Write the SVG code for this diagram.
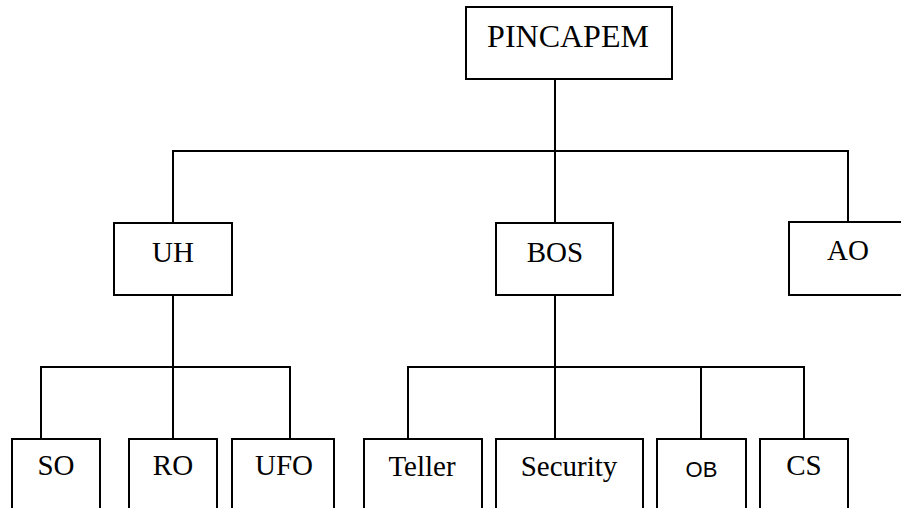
<svg xmlns="http://www.w3.org/2000/svg" width="901" height="508" viewBox="0 0 901 508">
<style>
.box{fill:#fff;stroke:#000;stroke-width:2}
.ln{fill:none;stroke:#000;stroke-width:2}
.t{font-family:"Liberation Serif","Times New Roman",serif;font-size:29px;text-anchor:middle;fill:#000}
.big{font-size:32px}
.s{font-family:"Liberation Sans",Arial,sans-serif;font-size:22px;text-anchor:middle;fill:#000}
</style>
<rect width="901" height="508" fill="#fff"/>
<g id="connectors">
<path class="ln" d="M555 79V223M173 223V151H848V222"/>
<path class="ln" d="M173 295V439M41 439V367H290V439"/>
<path class="ln" d="M555 295V439M408 439V367H804V439M701 367V439"/>
</g>
<g id="PINCAPEM"><rect class="box" x="466" y="7" width="206" height="72"/><text class="t big" x="568" y="47">PINCAPEM</text></g>
<g id="UH"><rect class="box" x="114" y="223" width="118" height="72"/><text class="t" x="173" y="262">UH</text></g>
<g id="BOS"><rect class="box" x="496" y="223" width="117" height="72"/><text class="t" x="555" y="262">BOS</text></g>
<g id="AO"><rect class="box" x="789" y="222" width="120" height="73"/><text class="t" x="848" y="260">AO</text></g>
<g id="SO"><rect class="box" x="12" y="439" width="88" height="80"/><text class="t" x="56" y="475">SO</text></g>
<g id="RO"><rect class="box" x="129" y="439" width="88" height="80"/><text class="t" x="173" y="475">RO</text></g>
<g id="UFO"><rect class="box" x="232" y="439" width="102" height="80"/><text class="t" x="284" y="475">UFO</text></g>
<g id="Teller"><rect class="box" x="364" y="439" width="118" height="80"/><text class="t" x="422" y="476">Teller</text></g>
<g id="Security"><rect class="box" x="496" y="439" width="147" height="80"/><text class="t" x="569" y="476">Security</text></g>
<g id="OB"><rect class="box" x="657" y="439" width="89" height="80"/><text class="s" x="701.5" y="477">OB</text></g>
<g id="CS"><rect class="box" x="760" y="439" width="88" height="80"/><text class="t" x="804" y="475">CS</text></g>
</svg>
